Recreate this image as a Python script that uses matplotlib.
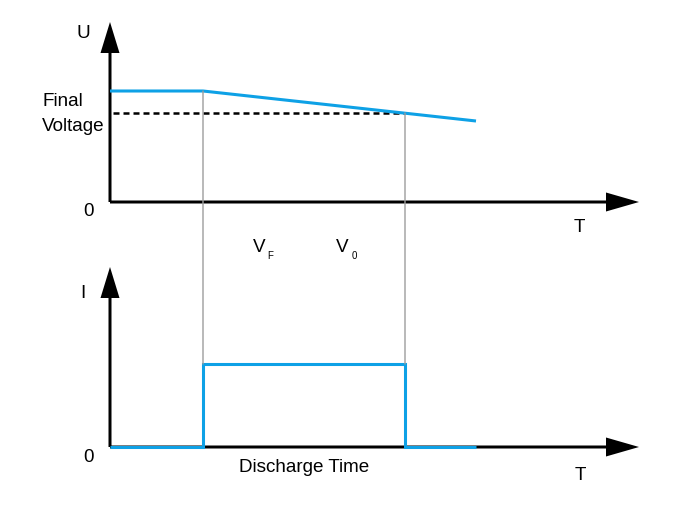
import matplotlib
matplotlib.use("Agg")
import matplotlib.pyplot as plt
from matplotlib.patches import ConnectionPatch

plt.rcParams['font.family'] = ['Liberation Sans', 'DejaVu Sans']

# schematic values (time / level units, one unit ~ one pixel)
t_volt = [0, 93, 366]          # voltage curve breakpoints
u_volt = [111, 111, 81]
u_final = 89                   # final voltage level (dashed)
t_discharge = [93, 295]        # start / end of discharge (V_F, V_0)
t_end = 366
i_level = 83

blue = '#0ea1e6'
gray = '#9c9c9c'
fs = 13.6

W, H = 675, 520
fig = plt.figure(figsize=(W / 100, H / 100), dpi=100)
fig.patch.set_facecolor('white')

# axes placed so that 1 data unit == 1 pixel
ax_u = fig.add_axes([110 / W, (H - 202) / H, 535 / W, 187 / H])
ax_i = fig.add_axes([110 / W, (H - 447) / H, 535 / W, 187 / H])
for ax in (ax_u, ax_i):
    ax.set_xlim(0, 535)
    ax.set_ylim(0, 187)
    ax.axis('off')
    # axis arrows
    ax.arrow(0, 0, 529, 0, width=3, head_width=19, head_length=33,
             length_includes_head=True, fc='black', ec='none', clip_on=False, zorder=2)
    ax.arrow(0, 0, 0, 180, width=3, head_width=19, head_length=31,
             length_includes_head=True, fc='black', ec='none', clip_on=False, zorder=2)
    ax.text(-22, -10, '0', fontsize=fs, ha='center', va='center')

# --- voltage panel ---
ax_u.plot(t_volt, u_volt, color=blue, lw=2.2, solid_capstyle='butt', clip_on=False, zorder=4)
ax_u.plot([3, t_discharge[1]], [u_final, u_final], color='black', lw=1.8,
          dashes=(2.4, 1.6), clip_on=False, zorder=3)
ax_u.text(-27, 168, 'U', fontsize=fs, ha='center', va='center')
ax_u.text(469, -26, 'T', fontsize=fs, ha='center', va='center')
ax_u.text(-68, 88, 'Final\nVoltage', fontsize=fs, ha='left', va='center', linespacing=1.62)
ax_u.text(149, -46, 'V', fontsize=fs, ha='center', va='center')
ax_u.text(160, -54, 'F', fontsize=7, ha='center', va='center')
ax_u.text(232, -46, 'V', fontsize=fs, ha='center', va='center')
ax_u.text(244, -54, '0', fontsize=7, ha='center', va='center')

# --- current panel ---
t_i = [0, t_discharge[0], t_discharge[0], t_discharge[1], t_discharge[1], t_end]
i_vals = [0, 0, i_level, i_level, 0, 0]
ax_i.plot(t_i, i_vals, color=blue, lw=2.2, solid_capstyle='butt',
          solid_joinstyle='miter', clip_on=False, zorder=4)
ax_i.text(-27, 154, 'I', fontsize=fs, ha='center', va='center')
ax_i.text(470, -28, 'T', fontsize=fs, ha='center', va='center')
ax_i.text(194, -20, 'Discharge Time', fontsize=fs, ha='center', va='center')

# gray guide lines linking both panels
u_at = [u_volt[0], u_final]
for t, u in zip(t_discharge, u_at):
    con = ConnectionPatch(xyA=(t, u), coordsA=ax_u.transData,
                          xyB=(t, i_level), coordsB=ax_i.transData,
                          color=gray, lw=1.0, zorder=1)
    fig.add_artist(con)

fig.savefig('out.png', dpi=100, facecolor='white')
